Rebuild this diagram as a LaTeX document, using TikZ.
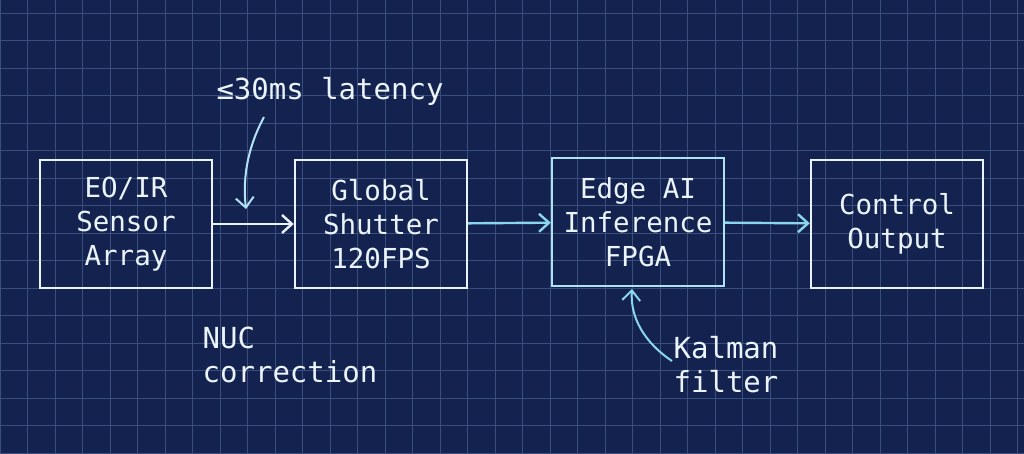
\documentclass[tikz,border=0pt]{standalone}
\usepackage{fontspec}
\setmonofont{DejaVu Sans Mono}
\newfontfamily\lbl{DejaVu Sans Mono}
\usetikzlibrary{arrows.meta}
\definecolor{bg}{HTML}{142250}
\definecolor{gridc}{HTML}{3A4E7E}
\definecolor{wline}{HTML}{EAF4FA}
\definecolor{cy}{HTML}{8AD6EE}
\begin{document}
\begin{tikzpicture}[x=1pt,y=1pt,
  box/.style={draw=wline,line width=2.4pt,minimum width=172pt,minimum height=128pt,align=center,text=wline,font=\ttfamily\fontsize{27.5}{34}\selectfont},
  arr/.style={line width=2.4pt,-{Straight Barb[length=10pt,width=18pt]}},
  lab/.style={text=wline,font=\lbl\fontsize{29}{34}\selectfont,align=left}]
\fill[bg] (0,0) rectangle (1024,453);
\useasboundingbox (0,0) rectangle (1024,453);
\draw[gridc,line width=0.8pt] (0,0) grid[step=27.5] (1024,453);
\node[box] (a) at (126,229) {EO/IR\\Sensor\\Array};
\node[box] (b) at (381,229) {Global\\Shutter\\120FPS};
\node[box,draw=cy!60!wline] (c) at (638,231) {Edge AI\\Inference\\FPGA};
\node[box] (d) at (897,229) {Control\\Output};
\draw[arr,wline] (a) -- (b);
\draw[arr,cy] (b) -- (c);
\draw[arr,cy] (c) -- (d);
\node[lab] (l1) at (330,362) {≤30ms latency};
\coordinate (s1) at (264,336);
\coordinate (t1) at (246,244);
\draw[arr,cy!60!wline,line width=2pt] (s1) .. controls (250,310) and (242,280) .. (t1);
\node[lab] (l2) at (290,98) {NUC\\correction};
\node[lab] (l3) at (726,88) {Kalman\\filter};
\coordinate (s2) at (672,92);
\coordinate (t2) at (632,164);
\draw[arr,cy,line width=2pt] (s2) .. controls (645,110) and (630,135) .. (t2);
\end{tikzpicture}
\end{document}
